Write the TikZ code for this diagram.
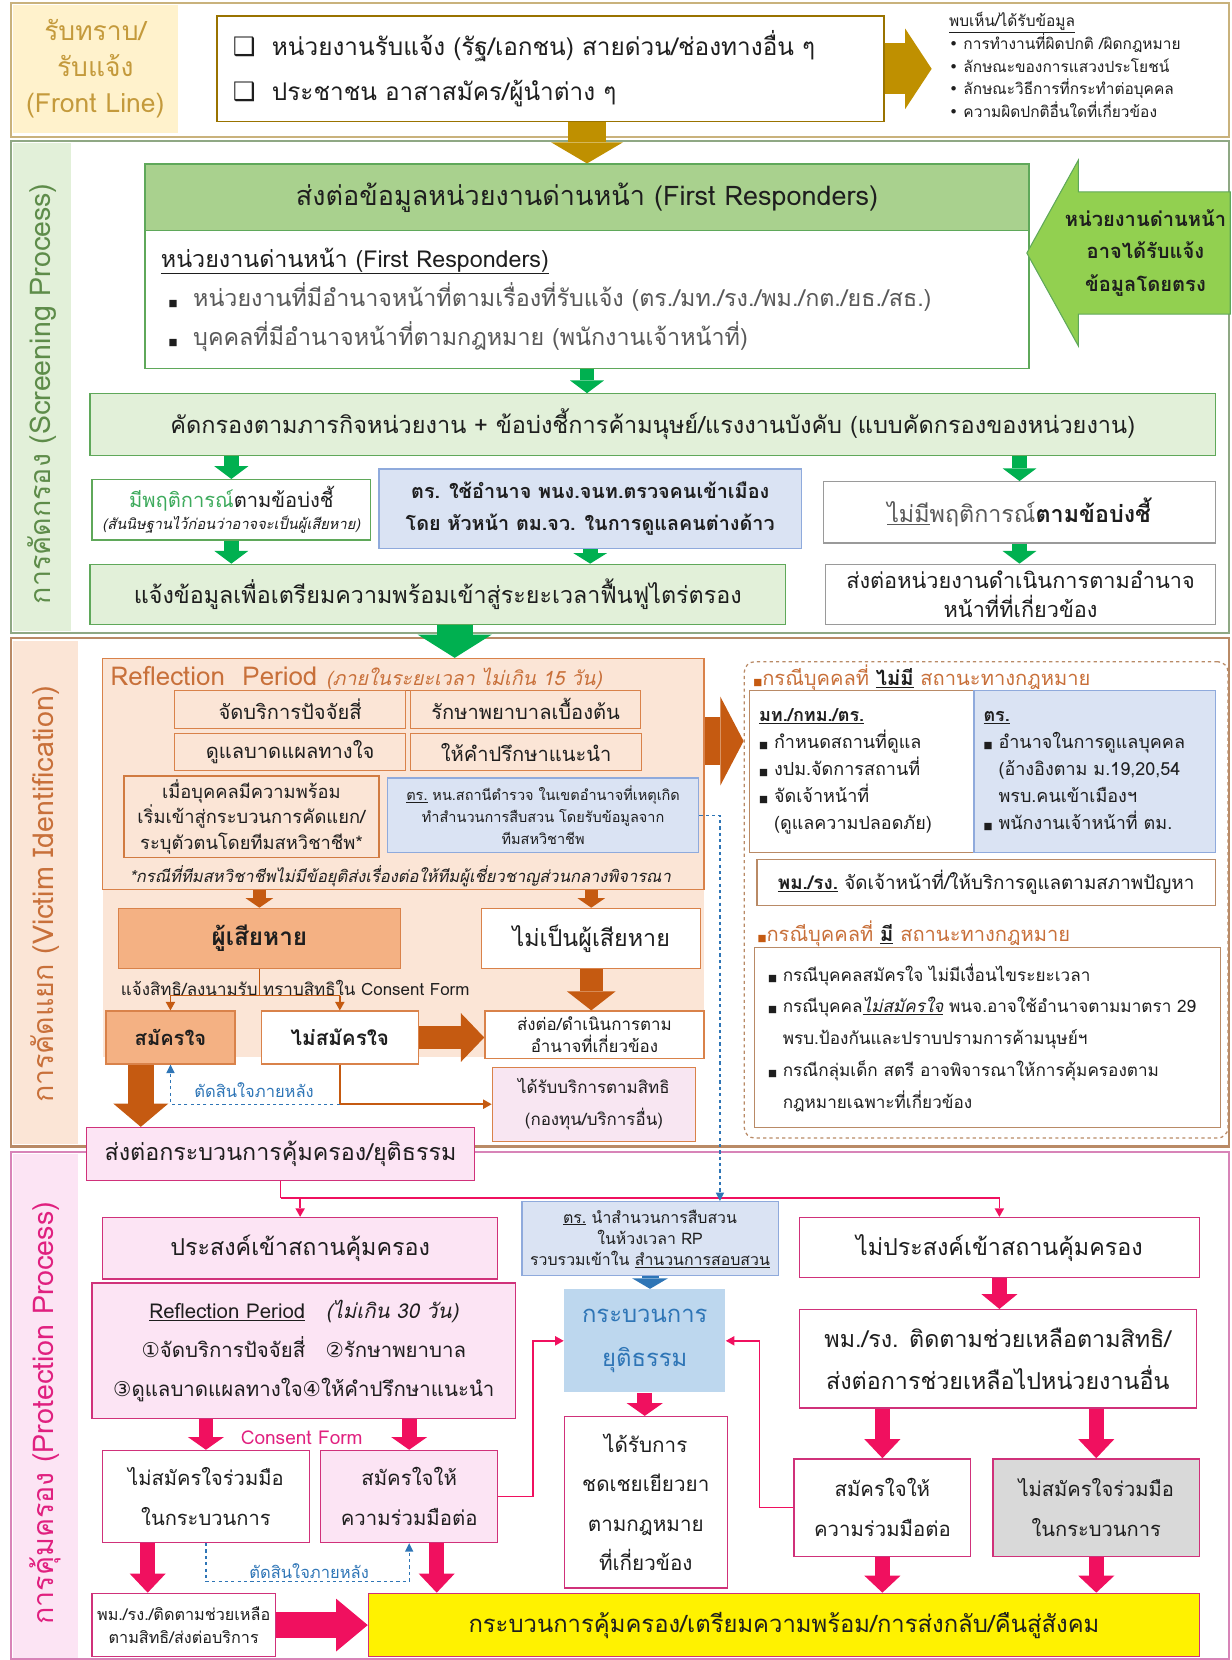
\documentclass[tikz,border=0pt]{standalone}
\usepackage{fontspec}
\setmainfont[Script=Thai]{Loma}
\newfontfamily\symf{DejaVu Sans}
\usepackage{tikz}
\usetikzlibrary{arrows.meta,shapes.arrows}

\definecolor{ink}{HTML}{1E1E1E}
\definecolor{gry}{HTML}{595959}
\definecolor{gold}{HTML}{BF9000}
\definecolor{goldl}{HTML}{FFF2CC}
\definecolor{goldb}{HTML}{C9B27C}
\definecolor{goldt}{HTML}{C49A3C}
\definecolor{grn}{HTML}{00B050}
\definecolor{grnb}{HTML}{5FA85A}
\definecolor{grnh}{HTML}{A9D18E}
\definecolor{grnl}{HTML}{E2F0D9}
\definecolor{grna}{HTML}{92D050}
\definecolor{grnt}{HTML}{5E8C4A}
\definecolor{grnx}{HTML}{3DAA5C}
\definecolor{grnbb}{HTML}{8FA884}
\definecolor{greyb}{HTML}{9A9A9A}
\definecolor{org}{HTML}{C55A11}
\definecolor{orgb}{HTML}{D9824A}
\definecolor{orgt}{HTML}{C8703A}
\definecolor{orgbb}{HTML}{B98A66}
\definecolor{peach}{HTML}{FBE5D6}
\definecolor{peachd}{HTML}{F4B183}
\definecolor{blu}{HTML}{DAE3F3}
\definecolor{blub}{HTML}{8FAADC}
\definecolor{blul}{HTML}{BDD7EE}
\definecolor{blut}{HTML}{2E75B6}
\definecolor{pnk}{HTML}{F0105F}
\definecolor{pnkb}{HTML}{D0317A}
\definecolor{pnkl}{HTML}{FCE4F4}
\definecolor{pnkt}{HTML}{E0207F}
\definecolor{pnkbb}{HTML}{D884B8}
\definecolor{srvl}{HTML}{F8E6F2}
\definecolor{gryl}{HTML}{D9D9D9}

\newcommand\fz[2]{\fontsize{#1}{#2}\selectfont}
\newcommand\cbx{{\symf\fontsize{24}{24}\selectfont ❑}}
\newcommand\bul{{\symf •}}
\newcommand\sq{{\symf\fontsize{9}{9}\selectfont ■}}
\newcommand\ci[1]{{\symf #1}}

\begin{document}
\begin{tikzpicture}[x=1pt,y=-1pt,
 box/.style={draw,rectangle,line width=1.2pt,inner sep=2pt,align=center,text=ink},
 wh/.style 2 args={minimum width=#1pt,minimum height=#2pt},
 wbox/.style={box,fill=white},
 gbox/.style={box,draw=grnb,fill=grnl},
 bbox/.style={box,draw=blub,fill=blu},
 obox/.style={box,draw=orgb,fill=peach},
 pbox/.style={box,draw=pnkb,fill=pnkl},
 lbl/.style={rotate=90,font=\fz{27}{27}},
 fat/.style n args={4}{draw=#1,line width=#2pt,-{Triangle[width=#3pt,length=#4pt,line width=0pt]}},
 thin/.style={draw=#1,line width=1.5pt,-{Triangle[width=9pt,length=8pt,line width=0pt]}},
 bdash/.style={draw=blut,dashed,line width=1.2pt,-{Triangle[width=8pt,length=8pt,line width=0pt]}}]

\useasboundingbox (0,0) rectangle (1163,1568);

\begin{scope} %bands
 \fill[goldl] (12,5) rectangle (168,126);
 \draw[goldb,line width=2pt] (10,3) rectangle (1161,129);
 \fill[grnl] (12,135) rectangle (67,596);
 \draw[grnbb,line width=2pt] (10,133) rectangle (1161,598);
 \fill[peach] (12,605) rectangle (74,1081);
 \draw[orgbb,line width=2pt] (10,603) rectangle (1161,1083);
 \fill[peach] (97,622) rectangle (665,998);
 \fill[pnkl] (12,1090) rectangle (74,1566);
 \draw[pnkbb,line width=2pt] (10,1088) rectangle (1161,1567);
\end{scope}

\begin{scope} %FrontLine
 \node[font=\fz{25}{34},text=goldt,align=center] (fl) at (90,65) {รับทราบ/\\รับแจ้ง\\(Front Line)};
 \node[wbox,draw=gold!80!black,wh={630}{100},text width=600pt,align=left,font=\fz{23}{42}] (flbox) at (520,65)
  {\cbx\ \ หน่วยงานรับแจ้ง (รัฐ/เอกชน) สายด่วน/ช่องทางอื่น ๆ\\ \cbx\ \ ประชาชน อาสาสมัคร/ผู้นำต่าง ๆ};
 \node[anchor=north west,align=left,font=\fz{14.6}{21.5},text=ink] (fllist) at (893,8)
  {\underline{พบเห็น/ได้รับข้อมูล}\\ \bul\ การทำงานที่ผิดปกติ /ผิดกฎหมาย\\ \bul\ ลักษณะของการแสวงประโยชน์\\
   \bul\ ลักษณะวิธีการที่กระทำต่อบุคคล\\ \bul\ ความผิดปกติอื่นใดที่เกี่ยวข้อง};
 \draw[fat={gold}{48}{76}{25},shorten >=13pt] (flbox.east) -- (flbox.east -| fllist.west);
\end{scope}

\begin{scope} %Screening
 \node[lbl,text=grnt] (lab2) at (40,372) {การคัดกรอง (Screening Process)};

 \node[box,draw=grnb,fill=grnh,wh={835}{63},font=\fz{25.5}{25.5}] (frh) at (554.5,186.5) {ส่งต่อข้อมูลหน่วยงานด่านหน้า (First Responders)};
 \node[wbox,draw=grnb,wh={835}{130},text width=805pt,align=left,font=\fz{22}{37}] (frb) at (554.5,283)
  {\underline{หน่วยงานด่านหน้า (First Responders)}\\
   \ \sq\ \ \textcolor{gry}{หน่วยงานที่มีอำนาจหน้าที่ตามเรื่องที่รับแจ้ง (ตร./มท./รง./พม./กต./ยธ./สธ.)}\\
   \ \sq\ \ \textcolor{gry}{บุคคลที่มีอำนาจหน้าที่ตามกฎหมาย (พนักงานเจ้าหน้าที่)}};
 \node[single arrow,shape border rotate=180,draw=grnb,fill=grna,line width=1pt,
  single arrow head extend=30pt,single arrow tip angle=122,minimum height=180pt,inner ysep=16pt,
  align=center,font=\bfseries\fz{19}{31},text=ink] (frarr) at (1082,239) {หน่วยงานด่านหน้า\\อาจได้รับแจ้ง\\ข้อมูลโดยตรง};

 \node[gbox,wh={1063}{58},font=\fz{22.2}{22}] (scr) at (616.5,401)
  {คัดกรองตามภารกิจหน่วยงาน + ข้อบ่งชี้การค้ามนุษย์/แรงงานบังคับ (แบบคัดกรองของหน่วยงาน)};
 \node[wbox,draw=grnb,wh={263}{57},font=\fz{19}{24}] (ind) at (218.5,481.5)
  {\textcolor{grnx}{มีพฤติการณ์}ตามข้อบ่งชี้\\[-3pt]{\fz{13.8}{15}\itshape (สันนิษฐานไว้ก่อนว่าอาจจะเป็นผู้เสียหาย)}};
 \node[bbox,wh={399}{75},font=\bfseries\fz{18.7}{30}] (imm) at (557.5,480.5)
  {ตร. ใช้อำนาจ พนง.จนท.ตรวจคนเข้าเมือง\\โดย หัวหน้า ตม.จว. ในการดูแลคนต่างด้าว};
 \node[wbox,draw=greyb,wh={370}{58},font=\fz{22}{22}] (noind) at (963,484)
  {\textcolor{gry}{\underline{ไม่มี}พฤติการณ์}\textbf{ตามข้อบ่งชี้}};
 \node[gbox,wh={657}{57},font=\fz{22}{22}] (prep) at (413.5,561.5) {แจ้งข้อมูลเพื่อเตรียมความพร้อมเข้าสู่ระยะเวลาฟื้นฟูไตร่ตรอง};
 \node[wbox,draw=greyb,wh={368}{57},font=\fz{20.5}{27}] (fwd1) at (964,561.5) {ส่งต่อหน่วยงานดำเนินการตามอำนาจ\\หน้าที่ที่เกี่ยวข้อง};

 \draw[fat={gold}{36}{68}{20}] (flbox.south -| frh.north) -- (frh.north);
 \draw[fat={grn}{14}{32}{12}] (frb.south) -- (frb.south |- scr.north);
 \draw[fat={grn}{14}{32}{12}] (ind.north |- scr.south) -- (ind.north);
 \draw[fat={grn}{14}{32}{12}] (noind.north |- scr.south) -- (noind.north);
 \draw[fat={grn}{14}{32}{12}] (ind.south) -- (ind.south |- prep.north);
 \draw[fat={grn}{14}{32}{10}] (imm.south) -- (imm.south |- prep.north);
 \draw[fat={grn}{14}{32}{12}] (noind.south) -- (noind.south |- fwd1.north);
\end{scope}

\begin{scope} %VictimId
 \node[lbl,text=orgt] (lab3) at (43,845) {การคัดแยก (Victim Identification)};

 \node[box,draw=orgb,wh={568}{218}] (rp) at (381,731) {};
 \node[anchor=west,font=\fz{24.5}{24.5},text=orgt] (rpt) at (101,641)
  {Reflection\ \ Period {\fz{18.5}{18.5}\itshape\underline{(ภายในระยะเวลา ไม่เกิน 15 วัน)}}};
 \node[obox,wh={218}{36},font=\fz{19}{19}] (s1) at (274,670) {จัดบริการปัจจัยสี่};
 \node[obox,wh={217}{36},font=\fz{19}{19}] (s2) at (496.5,670) {รักษาพยาบาลเบื้องต้น};
 \node[obox,wh={218}{35},font=\fz{19}{19}] (s3) at (274,710.5) {ดูแลบาดแผลทางใจ};
 \node[obox,wh={218}{35},font=\fz{19}{19}] (s4) at (497,710.5) {ให้คำปรึกษาแนะนำ};
 \node[obox,draw=org!80,wh={241}{77},font=\fz{17.3}{24}] (mdt) at (237.5,771.5)
  {เมื่อบุคคลมีความพร้อม\\เริ่มเข้าสู่กระบวนการคัดแยก/\\ระบุตัวตนโดยทีมสหวิชาชีพ*};
 \node[bbox,wh={294}{70},font=\fz{13.7}{21}] (pol) at (513,770)
  {\underline{ตร.} หน.สถานีตำรวจ ในเขตอำนาจที่เหตุเกิด\\ทำสำนวนการสืบสวน โดยรับข้อมูลจาก\\ทีมสหวิชาชีพ};
 \node[font=\itshape\fz{15.6}{15.6},text=ink] (rpn) at (378,828)
  {*กรณีที่ทีมสหวิชาชีพไม่มีข้อยุติส่งเรื่องต่อให้ทีมผู้เชี่ยวชาญส่วนกลางพิจารณา};

 \node[box,draw=orgb,fill=peachd,wh={266}{57},font=\bfseries\fz{23}{23}] (vic) at (245,886.5) {ผู้เสียหาย};
 \node[wbox,draw=orgb,wh={207}{57},font=\fz{22}{22}] (nvic) at (558.5,886.5) {ไม่เป็นผู้เสียหาย};
 \node[box,draw=orgb,fill=peachd,wh={122}{50},font=\bfseries\fz{19}{19}] (vol) at (161,980) {สมัครใจ};
 \node[box,draw=orgb,fill=white,wh={148}{50},font=\bfseries\fz{19.5}{19.5}] (nvol) at (321,980) {ไม่สมัครใจ};
 \node[wbox,draw=orgb,wh={207}{45},font=\fz{16}{21}] (oth) at (561.5,977.5) {ส่งต่อ/ดำเนินการตาม\\อำนาจที่เกี่ยวข้อง};
 \node[box,draw=orgb,fill=srvl,wh={192}{70},font=\fz{16}{30}] (srv) at (561,1043) {ได้รับบริการตามสิทธิ\\(กองทุน/บริการอื่น)};
 \node[pbox,wh={366}{50},font=\fz{22}{22}] (prot) at (265,1090) {ส่งต่อกระบวนการคุ้มครอง/ยุติธรรม};

 \coordinate (j1) at ([yshift=-25pt]vic.south);
 \node[anchor=south west,inner sep=1pt,font=\fz{16}{16},text=ink] (cfl) at (113,942) {แจ้งสิทธิ/ลงนามรับ ทราบสิทธิใน Consent Form};
 \draw[org,line width=1.2pt] (vic.south) -- (j1);
 \draw[org,line width=1.2pt] (vol.north |- j1) -- (nvol.north |- j1);
 \draw[thin=org] (vol.north |- j1) -- (vol.north);
 \draw[thin=org] (nvol.north |- j1) -- (nvol.north);
 \draw[fat={org}{12}{26}{9}] (vic.north |- rp.south) -- (vic.north);
 \draw[fat={org}{12}{26}{9}] (nvic.north |- rp.south) -- (nvic.north);
 \draw[fat={org}{22}{46}{18}] (nvic.south) -- (nvic.south |- oth.north);
 \draw[fat={org}{22}{46}{22}] (nvol.east) -- (nvol.east -| oth.west);
 \draw[thin=org] (nvol.south) |- (srv.west);
 \draw[fat={org}{24}{52}{22}] ([xshift=-28pt]vol.south) -- ([xshift=-28pt]vol.south |- prot.north);
 \draw[bdash] (nvol.south |- srv.west) -| (vol.south);
 \node[font=\fz{15.6}{15.6},text=blut] (late1) at (240,1030) {ตัดสินใจภายหลัง};

 \node[draw=orgbb,dashed,rounded corners=10pt,line width=1.2pt,wh={457}{450}] (rpan) at (931.5,850) {};
 \node[anchor=west,font=\fz{19}{19},text=orgt] (h1) at (708,640)
  {{\color{org}\sq}กรณีบุคคลที่ \textcolor{ink}{\textbf{\underline{ไม่มี}}} สถานะทางกฎหมาย};
 \node[wbox,draw=orgbb,wh={212}{153},text width=194pt,align=left,font=\fz{17}{25.5}] (ca) at (814,728.5)
  {\textbf{\underline{มท./กทม./ตร.}}\\ \sq\ กำหนดสถานที่ดูแล\\ \sq\ งปม.จัดการสถานที่\\ \sq\ จัดเจ้าหน้าที่\\ \phantom{\sq\ }(ดูแลความปลอดภัย)};
 \node[bbox,wh={228}{153},text width=210pt,align=left,font=\fz{17}{25.5}] (cb) at (1034,728.5)
  {\textbf{\underline{ตร.}}\\ \sq\ อำนาจในการดูแลบุคคล\\ \phantom{\sq\ }(อ้างอิงตาม ม.19,20,54\\ \phantom{\sq\ }พรบ.คนเข้าเมืองฯ\\ \sq\ พนักงานเจ้าหน้าที่ ตม.};
 \node[wbox,draw=orgbb,wh={433}{43},font=\fz{17.8}{17.8}] (cc) at (931.5,833.5)
  {\textbf{\underline{พม./รง.}} จัดเจ้าหน้าที่/ให้บริการดูแลตามสภาพปัญหา};
 \node[anchor=west,font=\fz{19}{19},text=orgt] (h2) at (712,882)
  {{\color{org}\sq}กรณีบุคคลที่ \textcolor{ink}{\textbf{\underline{มี}}} สถานะทางกฎหมาย};
 \node[wbox,draw=orgbb,wh={440}{170},text width=415pt,align=left,font=\fz{16.2}{30}] (cd) at (933,980)
  {\sq\ กรณีบุคคลสมัครใจ ไม่มีเงื่อนไขระยะเวลา\\
   \sq\ กรณีบุคคล\underline{\itshape ไม่สมัครใจ} พนจ.อาจใช้อำนาจตามมาตรา 29\\
   \phantom{\sq\ }พรบ.ป้องกันและปราบปรามการค้ามนุษย์ฯ\\
   \sq\ กรณีกลุ่มเด็ก สตรี อาจพิจารณาให้การคุ้มครองตาม\\
   \phantom{\sq\ }กฎหมายเฉพาะที่เกี่ยวข้อง};
 \draw[fat={org}{46}{84}{22}] ([yshift=31pt]rp.east) -- ([yshift=150pt]rpan.west);
 \draw[fat={grn}{34}{70}{22}] ([xshift=16pt]prep.south) -- ([xshift=16pt]prep.south |- rp.north);
\end{scope}

\begin{scope} %Protection
 \node[lbl,text=pnkt] (lab4) at (43,1335) {การคุ้มครอง (Protection Process)};

 \node[pbox,wh={373}{58},font=\fz{22}{22}] (want) at (283.5,1179) {ประสงค์เข้าสถานคุ้มครอง};
 \node[bbox,wh={242}{70},font=\fz{15}{20}] (inv) at (614,1170)
  {\underline{ตร.} นำสำนวนการสืบสวน\\ในห้วงเวลา RP\\รวบรวมเข้าใน \underline{สำนวนการสอบสวน}};
 \node[wbox,draw=pnkb,wh={378}{57},font=\fz{22}{22}] (nwant) at (944,1178.5) {ไม่ประสงค์เข้าสถานคุ้มครอง};
 \node[pbox,wh={400}{128},font=\fz{19.3}{37}] (rp30) at (287,1276)
  {\underline{Reflection Period}\quad{\itshape (ไม่เกิน 30 วัน)}\\
   \ci{①}จัดบริการปัจจัยสี่\quad\ci{②}รักษาพยาบาล\\ \ci{③}ดูแลบาดแผลทางใจ\ci{④}ให้คำปรึกษาแนะนำ};
 \node[box,draw=none,fill=blul,wh={152}{97},font=\fz{22.5}{42},text=blut] (jus) at (609,1266.5) {กระบวนการ\\ยุติธรรม};
 \node[wbox,draw=pnkb,wh={375}{93},font=\fz{22}{40}] (follow) at (942.5,1283.5)
  {พม./รง. ติดตามช่วยเหลือตามสิทธิ/\\ส่งต่อการช่วยเหลือไปหน่วยงานอื่น};
 \node[wbox,draw=pnkb,wh={195}{87},font=\fz{19}{38}] (nco1) at (194.5,1413.5) {ไม่สมัครใจร่วมมือ\\ในกระบวนการ};
 \node[pbox,wh={167}{87},font=\fz{19.2}{38}] (co1) at (386.5,1413.5) {สมัครใจให้\\ความร่วมมือต่อ};
 \node[wbox,draw=pnkb,wh={154}{162},font=\fz{19.5}{37}] (comp) at (610,1419) {ได้รับการ\\ชดเชยเยียวยา\\ตามกฎหมาย\\ที่เกี่ยวข้อง};
 \node[wbox,draw=pnkb,wh={167}{92},font=\fz{19.2}{38}] (co2) at (833.5,1424) {สมัครใจให้\\ความร่วมมือต่อ};
 \node[box,draw=pnkb,fill=gryl,wh={195}{92},font=\fz{19}{38}] (nco2) at (1035.5,1424) {ไม่สมัครใจร่วมมือ\\ในกระบวนการ};
 \node[box,draw=pnkb,fill=yellow,wh={785}{60},font=\fz{22.5}{22.5}] (yel) at (740.5,1535)
  {กระบวนการคุ้มครอง/เตรียมความพร้อม/การส่งกลับ/คืนสู่สังคม};
 \node[wbox,draw=pnkb,wh={173}{60},font=\fz{15.3}{22}] (sm) at (173.5,1535) {พม./รง./ติดตามช่วยเหลือ\\ตามสิทธิ/ส่งต่อบริการ};
 \node[font=\fz{18}{18},text=pnkt] (cf2) at (285,1358) {Consent Form};
 \node[font=\fz{15.6}{15.6},text=blut] (late2) at (292,1484) {ตัดสินใจภายหลัง};

 \coordinate (j2) at ([yshift=-16pt]prot.south);
 \draw[pnk,line width=1.5pt] (prot.south) -- (j2);
 \draw[thin=pnk] (j2) -| (want.north);
 \draw[thin=pnk] (j2) -| (nwant.north);
 \draw[bdash] (pol.east) -| ([xshift=66pt]inv.north);
 \draw[fat={blut}{16}{34}{10}] (inv.south) -- (inv.south |- jus.north);
 \draw[fat={pnk}{14}{34}{14}] (nwant.south) -- (nwant.south |- follow.north);
 \draw[fat={pnk}{14}{34}{12}] (nco1.north |- rp30.south) -- (nco1.north);
 \draw[fat={pnk}{14}{34}{12}] (co1.north |- rp30.south) -- (co1.north);
 \draw[fat={pnk}{14}{34}{12}] (jus.south) -- (jus.south |- comp.north);
 \draw[fat={pnk}{14}{34}{18}] (co2.north |- follow.south) -- (co2.north);
 \draw[fat={pnk}{14}{34}{18}] (nco2.north |- follow.south) -- (nco2.north);
 \draw[fat={pnk}{14}{34}{16}] (co2.south) -- (co2.south |- yel.north);
 \draw[fat={pnk}{14}{34}{16}] (nco2.south) -- (nco2.south |- yel.north);
 \draw[fat={pnk}{14}{34}{18}] ([xshift=-55pt]nco1.south) -- ([xshift=-55pt]nco1.south |- sm.north);
 \draw[fat={pnk}{14}{34}{18}] ([xshift=26pt]co1.south) -- ([xshift=26pt]co1.south |- yel.north);
 \draw[fat={pnk}{24}{50}{30}] (sm.east) -- (yel.west);
 \draw[thin=pnk] (co1.east) -- ++(33,0) |- (jus.west);
 \draw[thin=pnk] (co2.west) -- ++(-32,0) |- (jus.east);
 \draw[bdash] (nco1.south) -- ++(0,36) -| (co1.south);
\end{scope}

\end{tikzpicture}
\end{document}
